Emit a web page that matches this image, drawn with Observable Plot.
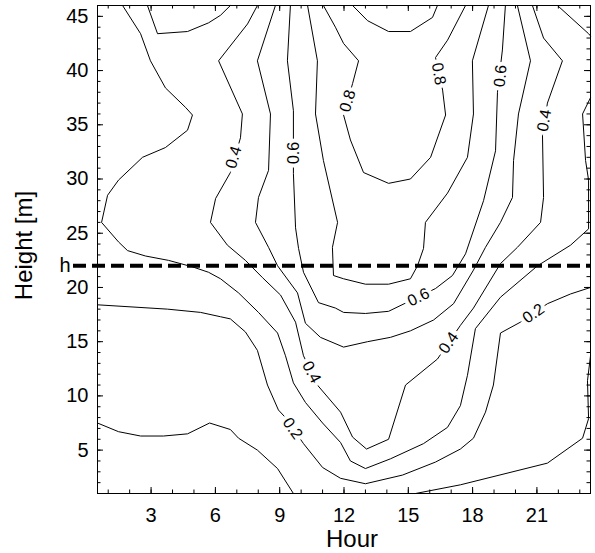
<!DOCTYPE html>
<html><head><meta charset="utf-8">
<script src="https://cdn.jsdelivr.net/npm/d3@7"></script>
<script src="https://cdn.jsdelivr.net/npm/@observablehq/plot@0.6"></script>
<style>
body{margin:0;background:#fff;}
#chart svg{display:block;}
</style></head><body><div id="chart"></div>
<script>
// Axis ticks
const xTicks = [3, 6, 9, 12, 15, 18, 21];
const yTicks = [5, 10, 15, 20, 25, 30, 35, 40, 45];
const xMinor = d3.range(1, 24);
const yMinor = d3.range(1, 47);
const hLevel = 22;   // canopy height h [m]

// Contour polylines: [hour, height]
const c01a = [[0.5,7.5],[1.48,6.7],[2.51,6.3],[3.58,6.3],[4.70,6.5],[5.73,7.5],[6.70,6.9],[7.08,6.1],[7.96,5.0],[8.90,3.3],[9.64,1.0]];
const c01b = [[15.34,1.0],[17.43,1.8],[21.49,3.8],[23.13,6.1],[23.41,7.9],[23.36,11.4],[23.5,13.7]];
const c02 = [[0.5,18.4],[3.77,18.0],[5.31,17.7],[6.24,17.3],[6.70,17.1],[7.40,15.9],[7.96,14.2],[8.43,11.0],[8.94,8.7],[9.27,8.0],[10.11,5.6],[11.00,3.4],[11.84,2.4],[13.00,1.9],[14.73,2.7],[16.27,3.9],[17.43,5.1],[18.04,6.1],[18.60,8.5],[18.97,11.0],[19.30,15.8],[20.23,16.8],[21.49,18.5],[22.57,19.4],[23.5,20.0]];
const c03a = [[1.67,46.0],[2.51,43.4],[2.97,40.9],[3.67,38.4],[4.61,36.6],[4.93,35.9],[4.70,34.5],[3.67,32.9],[2.60,32.0],[1.48,29.9],[0.97,28.5],[0.69,26.0],[1.48,24.2],[1.90,23.4],[2.74,22.9],[3.81,22.5],[4.93,21.9],[5.68,21.4],[6.24,20.8],[7.08,19.5],[8.01,17.7],[8.90,15.8],[9.27,13.7],[9.64,11.2],[10.20,9.4],[11.00,7.5],[11.84,5.7],[12.30,4.0],[13.00,3.3],[14.17,4.2],[15.71,5.6],[16.83,7.1],[17.43,9.1],[17.76,11.9],[18.13,16.2],[19.30,19.1],[21.03,22.0],[22.57,23.9],[23.41,25.4],[23.41,29.9],[23.27,31.7],[23.13,36.0],[23.5,37.5]];
const c03b = [[21.96,46.0],[23.41,43.4],[23.5,43.2]];
const c03loop = [[2.83,46.0],[3.30,43.4],[4.70,43.6],[5.68,44.4],[6.24,45.1],[6.70,46.0]];
const c04 = [[7.96,46.0],[7.50,44.3],[6.15,40.9],[7.26,36.0],[7.17,33.8],[6.70,30.6],[6.01,28.2],[5.77,26.0],[6.56,23.9],[7.40,22.5],[8.20,20.9],[9.04,19.3],[9.74,16.8],[10.11,13.7],[10.76,11.0],[11.84,8.5],[12.40,6.2],[13.05,5.1],[14.08,6.0],[14.87,11.0],[16.36,13.4],[17.43,16.5],[18.04,18.1],[19.30,22.2],[20.09,23.7],[21.17,26.0],[21.31,28.3],[21.26,34.0],[21.49,37.0],[22.19,40.9],[21.31,43.0],[20.79,46.0]];
const c05 = [[8.80,46.0],[7.96,40.9],[8.57,36.0],[8.48,30.8],[8.01,28.3],[7.87,26.0],[8.48,23.7],[8.90,22.0],[9.83,19.5],[10.20,16.7],[10.90,15.4],[11.98,14.5],[13.10,15.0],[14.17,15.4],[15.10,16.0],[16.18,17.0],[17.11,18.5],[18.04,21.6],[18.60,23.7],[19.30,26.0],[19.86,28.3],[19.91,31.7],[20.14,36.0],[20.70,40.9],[20.09,46.0]];
const c06 = [[9.50,46.0],[9.36,40.9],[9.64,36.3],[9.64,30.5],[9.74,25.5],[9.88,23.6],[10.11,21.4],[10.81,18.6],[11.60,18.1],[11.98,17.7],[13.00,17.6],[14.08,17.8],[16.27,19.9],[17.06,21.1],[17.67,23.1],[18.51,28.0],[19.07,32.6],[19.16,38.0],[19.39,41.9],[19.53,46.0]];
const c07 = [[10.30,46.0],[10.76,40.9],[10.67,36.0],[11.04,31.7],[11.70,26.0],[11.46,23.7],[11.51,21.1],[11.98,20.8],[13.00,20.3],[14.08,20.3],[15.10,20.8],[15.43,22.0],[15.71,23.6],[15.80,26.0],[16.83,28.7],[17.76,32.0],[18.04,36.0],[17.99,40.9],[18.74,46.0]];
const c08 = [[11.04,46.0],[11.60,44.0],[11.98,42.5],[12.68,40.9],[12.40,38.8],[11.98,35.9],[12.30,33.6],[12.91,30.6],[14.08,29.6],[15.10,30.0],[16.04,32.0],[16.74,35.9],[16.60,38.2],[16.27,41.2],[16.83,42.8],[17.67,46.0]];
const c09 = [[12.40,46.0],[13.10,44.6],[14.08,43.6],[15.10,43.6],[16.13,44.9],[16.36,46.0]];
const contourLines = [c01a, c01b, c02, c03a, c03b, c03loop, c04, c05, c06, c07, c08, c09];

// Contour labels
const labelText   = ["0.4", "0.6", "0.8", "0.8", "0.6", "0.4", "0.4", "0.2", "0.6", "0.4", "0.2"];
const labelHour   = [6.85, 9.64, 12.17, 16.42, 19.30, 21.35, 10.48, 9.60, 15.48, 16.88, 20.84];
const labelHeight = [32.0, 32.4, 37.2, 39.7, 39.5, 35.4, 12.2, 7.0, 19.1, 14.9, 17.6];
const labelAngle  = [-74, -90, -74, 80, -85, -80, 62, 55, -26, -55, -35];

const font = "Liberation Sans, Arial, Helvetica, sans-serif";
const W = 595, H = 553, mL = 97, mR = 5, mT = 5, mB = 60;
const fw = W - mL - mR, fh = H - mT - mB;

const marks = [
  ...contourLines.map(c => Plot.line(c, {x: d => d[0], y: d => d[1], stroke: "black", strokeWidth: 1})),
  Plot.text(labelText, {
    x: (d, i) => labelHour[i], y: (d, i) => labelHeight[i], text: d => d,
    rotate: (d, i) => labelAngle[i], fontSize: 16, fill: "black",
    stroke: "white", strokeWidth: 8, paintOrder: "stroke", strokeLinejoin: "round"
  }),
  Plot.ruleY([hLevel], {stroke: "black", strokeWidth: 4, strokeDasharray: "13,6", insetLeft: -24, clip: false}),
  // inward ticks, all four sides
  Plot.tickX(xMinor, {x: d => d, insetTop: fh - 3.5, stroke: "black"}),
  Plot.tickX(xTicks, {x: d => d, insetTop: fh - 6, stroke: "black"}),
  Plot.tickX(xMinor, {x: d => d, insetBottom: fh - 3.5, stroke: "black"}),
  Plot.tickX(xTicks, {x: d => d, insetBottom: fh - 6, stroke: "black"}),
  Plot.tickY(yMinor, {y: d => d, insetRight: fw - 3.5, stroke: "black"}),
  Plot.tickY(yTicks, {y: d => d, insetRight: fw - 6, stroke: "black"}),
  Plot.tickY(yMinor, {y: d => d, insetLeft: fw - 3.5, stroke: "black"}),
  Plot.tickY(yTicks, {y: d => d, insetLeft: fw - 6, stroke: "black"}),
  Plot.axisX(xTicks, {tickSize: 0, tickPadding: 14, fontSize: 20, label: null, fill: "black"}),
  Plot.axisY(yTicks, {tickSize: 0, tickPadding: 9, fontSize: 20, label: null, fill: "black"}),
  Plot.axisY([hLevel], {tickSize: 0, tickPadding: 27, fontSize: 20, label: null, tickFormat: () => "h", fill: "black"}),
  Plot.frame({stroke: "black", strokeWidth: 1}),
  Plot.text(["Hour"], {frameAnchor: "bottom", text: d => d, dy: 53, dx: 8, fontSize: 24, fill: "black"}),
  Plot.text(["Height [m]"], {frameAnchor: "left", textAnchor: "middle", text: d => d, rotate: -90, dx: -73, dy: -4, fontSize: 24, fill: "black"})
];

const chart = Plot.plot({
  width: W, height: H,
  marginLeft: mL, marginRight: mR, marginTop: mT, marginBottom: mB,
  x: {domain: [0.5, 23.5], axis: null},
  y: {domain: [1, 46], axis: null},
  style: {fontFamily: font, background: "white", color: "black", overflow: "visible"},
  marks
});
document.getElementById("chart").appendChild(chart);
</script>
</body></html>
